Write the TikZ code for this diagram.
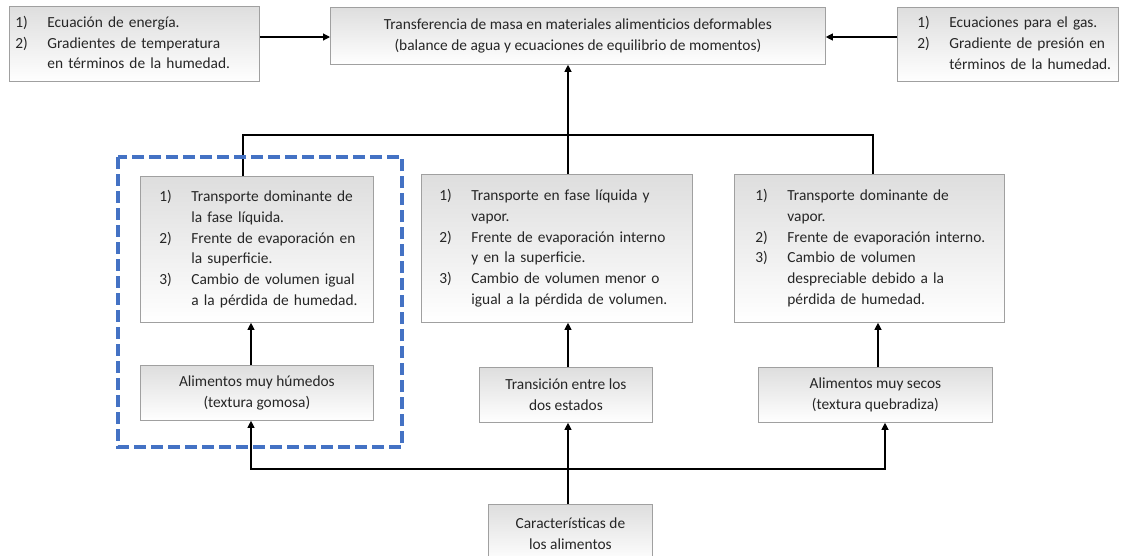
\documentclass[tikz,border=0pt]{standalone}
\usepackage{fontspec}
\setmainfont{Carlito}
\usetikzlibrary{arrows.meta}
\definecolor{boxline}{HTML}{A0A0A0}
\definecolor{dashblue}{HTML}{4472C4}
\definecolor{txt}{HTML}{262626}
\newlength\numw
\setlength\numw{32pt}
\newcommand\lst[1]{\begin{tabular}{@{}p{\numw}@{}l@{}}#1\end{tabular}}
\tikzset{
  box/.style={draw=boxline, line width=0.8pt, top color=black!13, bottom color=white,
    text=txt, anchor=north west, inner ysep=0pt, font=\fontsize{15.4}{20.8}\selectfont},
  lbox/.style={box, align=left},
  cbox/.style={box, align=center, inner xsep=0pt},
  conn/.style={line width=1.1pt, draw=black},
  arr/.style={conn, -{Triangle[length=7pt,width=7pt]}},
  barr/.style={conn, {Triangle[length=7pt,width=7pt]}-{Triangle[length=7pt,width=7pt]}}
}
\begin{document}
\begin{tikzpicture}[x=1pt,y=-1pt]
\useasboundingbox (0,0) rectangle (1121,555);
\fill[white] (0,0) rectangle (1121,555);

% top row
\node[lbox, inner xsep=6pt, text width=238pt, minimum width=250pt, minimum height=75pt] (tl) at (9,6)
  {\lst{1) & Ecuación de energía.\\ 2) & Gradientes de temperatura\\ & en términos de la humedad.}};
\node[cbox, minimum width=495pt, minimum height=57pt] (tc) at (330,7)
  {Transferencia de masa en materiales alimenticios deformables\\(balance de agua y ecuaciones de equilibrio de momentos)};
\node[lbox, inner xsep=20pt, text width=181pt, minimum width=221pt, minimum height=74pt] (tr) at (897,7)
  {\lst{1) & Ecuaciones para el gas.\\ 2) & Gradiente de presión en\\ & términos de la humedad.}};

% middle row
\node[lbox, inner xsep=19pt, text width=195pt, minimum width=233pt, minimum height=146pt] (L) at (140,176)
  {\lst{1) & Transporte dominante de\\ & la fase líquida.\\ 2) & Frente de evaporación en\\ & la superficie.\\ 3) & Cambio de volumen igual\\ & a la pérdida de humedad.}};
\node[lbox, inner xsep=18pt, text width=235pt, minimum width=271pt, minimum height=148pt] (M) at (421,174)
  {\lst{1) & Transporte en fase líquida y\\ & vapor.\\ 2) & Frente de evaporación interno\\ & y en la superficie.\\ 3) & Cambio de volumen menor o\\ & igual a la pérdida de volumen.}};
\node[lbox, inner xsep=21pt, text width=228pt, minimum width=270pt, minimum height=148pt] (R) at (734,174)
  {\lst{1) & Transporte dominante de\\ & vapor.\\ 2) & Frente de evaporación interno.\\ 3) & Cambio de volumen\\ & despreciable debido a la\\ & pérdida de humedad.}};

% lower row
\node[cbox, minimum width=233pt, minimum height=55pt] (H) at (140,365)
  {Alimentos muy húmedos\\(textura gomosa)};
\node[cbox, minimum width=173pt, minimum height=55pt] (T) at (479,367)
  {Transición entre los\\dos estados};
\node[cbox, minimum width=234pt, minimum height=55pt] (S) at (758,367)
  {Alimentos muy secos\\(textura quebradiza)};
\node[cbox, minimum width=164pt, minimum height=58pt] (C) at (488,504)
  {Características de\\los alimentos};

% helper coordinates
\coordinate (ya) at (0,37);
\coordinate (xl) at (243,135);
\coordinate (xr) at (873,135);
\coordinate (xm) at (568,0);
\coordinate (xs) at (878,0);
\coordinate (xa) at (251,469);
\coordinate (xb) at (885,469);

% connectors
\draw[arr] (tl.east |- ya) -- (tc.west |- ya);
\draw[arr] (tr.west |- ya) -- (tc.east |- ya);
\draw[conn] (L.north -| xl) -- (xl) -- (xr) -- (R.north -| xr);
\draw[arr] (M.north -| xm) -- (tc.south -| xm);
\draw[arr] (H.north -| xa) -- (L.south -| xa);
\draw[arr] (T.north -| xm) -- (M.south -| xm);
\draw[arr] (S.north -| xs) -- (R.south -| xs);
\draw[arr] (C.north -| xm) -- (T.south -| xm);
\draw[barr] (H.south -| xa) -- (xa) -- (xb) -- (S.south -| xb);

% dashed group frame
\draw[dashblue, line width=3.6pt, dash pattern=on 12pt off 5pt] (118,157) rectangle (402,447);
\end{tikzpicture}
\end{document}
